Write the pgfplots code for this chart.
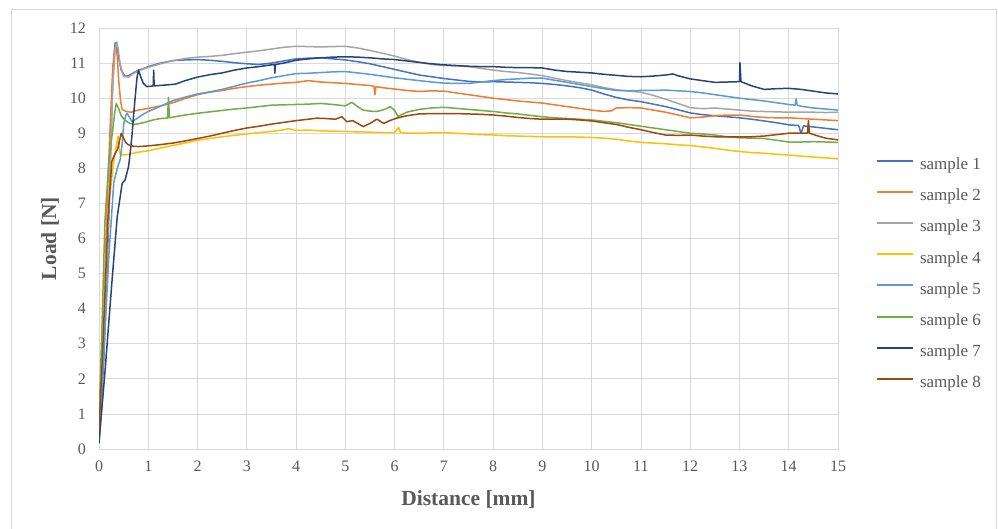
\documentclass[border=0pt]{standalone}
\usepackage{fontspec}
\setmainfont{Liberation Serif}
\usepackage{pgfplots}
\pgfplotsset{compat=1.18}

\definecolor{gridgray}{HTML}{D9D9D9}
\definecolor{labelgray}{HTML}{595959}
\definecolor{sOne}{HTML}{4472C4}
\definecolor{sTwo}{HTML}{ED7D31}
\definecolor{sThree}{HTML}{A5A5A5}
\definecolor{sFour}{HTML}{FFC000}
\definecolor{sFive}{HTML}{5B9BD5}
\definecolor{sSix}{HTML}{70AD47}
\definecolor{sSeven}{HTML}{264478}
\definecolor{sEight}{HTML}{9E480E}

\begin{document}
\begin{tikzpicture}
\useasboundingbox (0,0) rectangle (998pt,528pt);
\fill[white] (0,0) rectangle (998pt,528pt);
\draw[gridgray, line width=0.8pt] (11pt,-10pt) -- (11pt,519pt) -- (996.5pt,519pt) -- (996.5pt,-10pt);
\begin{axis}[
  at={(99pt,79pt)}, anchor=south west,
  scale only axis, width=739pt, height=421pt,
  xmin=0, xmax=15, ymin=0, ymax=12,
  xtick={0,1,...,15}, ytick={0,1,...,12},
  grid=major,
  major grid style={gridgray, line width=0.8pt},
  axis line style={gridgray, line width=0.8pt},
  major tick length=0pt,
  /pgf/number format/assume math mode=true,
  tick label style={font=\fontsize{16}{19}\selectfont, text=labelgray},
  yticklabel style={inner sep=0pt, anchor=east, xshift=-13pt},
  xticklabel style={inner sep=0pt, anchor=north, yshift=-12pt},
  xlabel={\bfseries Distance [mm]},
  ylabel={\bfseries Load [N]},
  label style={font=\fontsize{21.5}{25}\selectfont, text=labelgray},
  xlabel style={at={(axis description cs:0.5,-0.121)}, anchor=center},
  ylabel style={at={(axis description cs:-0.0663,0.5)}, anchor=center},
  legend style={draw=none, fill=none, inner sep=0pt, outer sep=0pt,
    at={(axis description cs:1.0514,0.6900)}, anchor=north west,
    row sep=17.2pt, column sep=6pt,
    font=\fontsize{17}{20}\selectfont, text=labelgray,
    nodes={inner sep=0pt, text height=11pt, text depth=3pt}},
  legend cell align=left,
  legend image code/.code={\draw[#1, line width=2pt] (0pt,5pt) -- (36pt,5pt);},
  every axis plot/.append style={line width=1.5pt, line join=round},
]
\addplot[sOne] coordinates {
(0,0.2) (0.1,2.6) (0.2,6.6) (0.27,10.1) (0.31,11.3) (0.33,11.58) (0.36,11.5) (0.4,11.15) (0.45,10.8) (0.53,10.62) (0.6,10.64) (0.7,10.72) (0.8,10.8) (0.9,10.84) (1,10.9) (1.25,11.0) (1.5,11.07) (1.75,11.09) (2,11.1) (2.25,11.08) (2.5,11.05) (2.75,11.01) (3,10.98) (3.25,10.96) (3.5,11.0) (3.75,11.06) (4,11.12) (4.25,11.14) (4.5,11.15) (4.75,11.12) (5,11.09) (5.25,11.04) (5.5,10.98) (5.75,10.9) (6,10.82) (6.25,10.74) (6.5,10.66) (6.75,10.61) (7,10.56) (7.25,10.52) (7.5,10.48) (7.75,10.46) (8,10.47) (8.25,10.46) (8.5,10.45) (8.75,10.44) (9,10.42) (9.25,10.39) (9.5,10.35) (9.75,10.3) (10,10.23) (10.25,10.12) (10.5,10.02) (10.75,9.95) (11,9.9) (11.25,9.83) (11.5,9.76) (11.75,9.67) (12,9.58) (12.25,9.53) (12.5,9.5) (12.75,9.47) (13,9.44) (13.25,9.4) (13.5,9.35) (13.75,9.3) (14,9.24) (14.2,9.22) (14.25,9.0) (14.3,9.21) (14.5,9.18) (14.75,9.14) (15,9.1)
};
\addlegendentry{sample 1}
\addplot[sTwo] coordinates {
(0,0.6) (0.08,3.0) (0.15,6.4) (0.22,9.0) (0.28,10.9) (0.32,11.4) (0.345,11.47) (0.37,11.2) (0.4,10.5) (0.44,9.9) (0.47,9.68) (0.55,9.62) (0.65,9.6) (0.8,9.66) (1,9.71) (1.25,9.78) (1.5,9.87) (1.75,9.99) (2,10.1) (2.25,10.17) (2.5,10.22) (2.75,10.28) (3,10.33) (3.25,10.37) (3.5,10.4) (3.75,10.43) (4,10.45) (4.25,10.5) (4.5,10.46) (4.75,10.44) (5,10.42) (5.25,10.39) (5.5,10.36) (5.58,10.34) (5.6,10.1) (5.62,10.33) (5.75,10.3) (6,10.26) (6.25,10.22) (6.5,10.19) (6.75,10.21) (7,10.2) (7.25,10.15) (7.5,10.1) (7.75,10.05) (8,10.0) (8.25,9.96) (8.5,9.92) (8.75,9.89) (9,9.86) (9.25,9.81) (9.5,9.76) (9.75,9.71) (10,9.66) (10.25,9.62) (10.4,9.64) (10.5,9.72) (10.75,9.73) (11,9.72) (11.25,9.66) (11.5,9.6) (11.75,9.52) (12,9.44) (12.25,9.46) (12.5,9.5) (12.75,9.52) (13,9.52) (13.25,9.48) (13.5,9.45) (13.75,9.44) (14,9.44) (14.25,9.42) (14.5,9.4) (14.75,9.38) (15,9.36)
};
\addlegendentry{sample 2}
\addplot[sThree] coordinates {
(0,0.3) (0.1,3.0) (0.2,7.0) (0.28,10.4) (0.33,11.4) (0.36,11.6) (0.39,11.4) (0.43,10.95) (0.5,10.62) (0.6,10.6) (0.7,10.7) (0.8,10.78) (1,10.88) (1.25,10.98) (1.5,11.07) (1.75,11.13) (2,11.17) (2.25,11.19) (2.5,11.22) (2.75,11.27) (3,11.31) (3.25,11.35) (3.5,11.4) (3.75,11.45) (4,11.48) (4.25,11.47) (4.5,11.46) (4.75,11.47) (5,11.48) (5.25,11.43) (5.5,11.36) (5.75,11.28) (6,11.2) (6.25,11.1) (6.5,11.02) (6.75,10.96) (7,10.93) (7.25,10.92) (7.5,10.9) (7.75,10.85) (8,10.8) (8.25,10.76) (8.5,10.73) (8.75,10.69) (9,10.64) (9.25,10.57) (9.5,10.5) (9.75,10.44) (10,10.38) (10.25,10.3) (10.5,10.24) (10.75,10.2) (11,10.17) (11.25,10.08) (11.5,9.97) (11.75,9.85) (12,9.73) (12.25,9.7) (12.5,9.72) (12.75,9.69) (13,9.66) (13.25,9.63) (13.5,9.62) (13.75,9.61) (14,9.6) (14.25,9.6) (14.5,9.6) (14.75,9.59) (15,9.6)
};
\addlegendentry{sample 3}
\addplot[sFour] coordinates {
(0,0.8) (0.1,4.0) (0.2,7.0) (0.3,8.2) (0.36,8.7) (0.385,8.92) (0.41,8.6) (0.43,8.4) (0.5,8.38) (0.6,8.4) (0.75,8.45) (1,8.5) (1.25,8.58) (1.5,8.65) (1.75,8.72) (2,8.8) (2.25,8.85) (2.5,8.9) (2.75,8.94) (3,8.98) (3.25,9.02) (3.5,9.05) (3.75,9.1) (3.85,9.13) (4,9.08) (4.25,9.09) (4.5,9.07) (4.75,9.06) (5,9.05) (5.25,9.04) (5.5,9.03) (5.75,9.02) (6,9.02) (6.08,9.17) (6.12,9.02) (6.25,9.0) (6.5,9.0) (6.75,9.01) (7,9.02) (7.25,9.0) (7.5,8.98) (7.75,8.96) (8,8.95) (8.25,8.93) (8.5,8.92) (8.75,8.91) (9,8.9) (9.25,8.9) (9.5,8.9) (9.75,8.89) (10,8.88) (10.25,8.86) (10.5,8.83) (10.75,8.78) (11,8.74) (11.25,8.72) (11.5,8.7) (11.75,8.67) (12,8.65) (12.25,8.61) (12.5,8.57) (12.75,8.52) (13,8.48) (13.25,8.45) (13.5,8.43) (13.75,8.4) (14,8.38) (14.25,8.35) (14.5,8.32) (14.75,8.3) (15,8.27)
};
\addlegendentry{sample 4}
\addplot[sFive] coordinates {
(0,0.4) (0.1,2.8) (0.2,5.5) (0.3,7.6) (0.38,8.05) (0.43,8.25) (0.47,8.7) (0.5,9.24) (0.54,9.5) (0.57,9.57) (0.62,9.45) (0.67,9.33) (0.75,9.4) (0.87,9.52) (1,9.62) (1.25,9.77) (1.5,9.93) (1.75,10.03) (2,10.12) (2.25,10.18) (2.5,10.25) (2.75,10.34) (3,10.43) (3.25,10.5) (3.5,10.58) (3.75,10.64) (4,10.7) (4.25,10.71) (4.5,10.73) (4.75,10.75) (5,10.76) (5.25,10.72) (5.5,10.68) (5.75,10.63) (6,10.58) (6.25,10.54) (6.5,10.5) (6.75,10.46) (7,10.43) (7.25,10.42) (7.5,10.42) (7.75,10.46) (8,10.5) (8.25,10.53) (8.5,10.55) (8.75,10.57) (9,10.57) (9.25,10.51) (9.5,10.45) (9.75,10.39) (10,10.33) (10.25,10.27) (10.5,10.22) (10.75,10.21) (11,10.22) (11.25,10.22) (11.5,10.23) (11.75,10.21) (12,10.19) (12.25,10.15) (12.5,10.1) (12.75,10.05) (13,10.0) (13.25,9.96) (13.5,9.92) (13.75,9.87) (14,9.82) (14.13,9.8) (14.15,9.98) (14.17,9.8) (14.25,9.77) (14.5,9.72) (14.75,9.69) (15,9.66)
};
\addlegendentry{sample 5}
\addplot[sSix] coordinates {
(0,0.8) (0.05,3.0) (0.12,6.5) (0.2,8.2) (0.27,9.0) (0.32,9.6) (0.35,9.85) (0.4,9.7) (0.45,9.5) (0.52,9.38) (0.6,9.3) (0.7,9.25) (0.8,9.27) (0.95,9.32) (1.1,9.38) (1.25,9.42) (1.39,9.43) (1.41,10.02) (1.43,9.44) (1.5,9.46) (1.75,9.52) (2,9.57) (2.25,9.61) (2.5,9.65) (2.75,9.69) (3,9.72) (3.25,9.76) (3.5,9.8) (3.75,9.81) (4,9.82) (4.25,9.83) (4.5,9.85) (4.75,9.82) (5,9.78) (5.13,9.88) (5.25,9.76) (5.36,9.66) (5.5,9.63) (5.64,9.62) (5.8,9.68) (5.91,9.76) (6.0,9.65) (6.07,9.48) (6.25,9.6) (6.5,9.68) (6.75,9.72) (7,9.74) (7.25,9.71) (7.5,9.68) (7.75,9.65) (8,9.62) (8.25,9.58) (8.5,9.55) (8.75,9.51) (9,9.47) (9.25,9.44) (9.5,9.42) (9.75,9.4) (10,9.38) (10.25,9.34) (10.5,9.3) (10.75,9.25) (11,9.2) (11.25,9.15) (11.5,9.1) (11.75,9.05) (12,9.0) (12.25,8.98) (12.5,8.95) (12.75,8.9) (13,8.87) (13.25,8.86) (13.5,8.85) (13.75,8.8) (14,8.75) (14.25,8.75) (14.5,8.76) (14.75,8.75) (15,8.74)
};
\addlegendentry{sample 6}
\addplot[sSeven] coordinates {
(0,0.16) (0.13,2.35) (0.26,4.72) (0.37,6.62) (0.47,7.57) (0.53,7.67) (0.6,8.05) (0.64,8.52) (0.67,8.95) (0.72,9.8) (0.77,10.57) (0.8,10.8) (0.85,10.6) (0.9,10.42) (0.97,10.33) (1.05,10.34) (1.1,10.35) (1.11,10.8) (1.12,10.35) (1.21,10.36) (1.4,10.38) (1.55,10.4) (1.75,10.5) (2,10.6) (2.25,10.67) (2.5,10.72) (2.75,10.8) (3,10.86) (3.25,10.9) (3.5,10.95) (3.56,10.96) (3.57,10.71) (3.58,10.96) (3.75,11.0) (4,11.08) (4.25,11.12) (4.5,11.15) (4.75,11.17) (5,11.18) (5.25,11.17) (5.5,11.15) (5.75,11.12) (6,11.1) (6.25,11.06) (6.5,11.02) (6.75,10.98) (7,10.95) (7.25,10.93) (7.5,10.91) (7.75,10.9) (8,10.9) (8.25,10.88) (8.5,10.87) (8.75,10.87) (9,10.86) (9.25,10.8) (9.5,10.76) (9.75,10.74) (10,10.72) (10.25,10.68) (10.5,10.65) (10.75,10.62) (11,10.61) (11.25,10.63) (11.5,10.66) (11.65,10.69) (11.75,10.64) (12,10.55) (12.25,10.5) (12.5,10.45) (12.75,10.46) (13,10.47) (13.01,11.01) (13.03,10.47) (13.25,10.35) (13.5,10.25) (13.75,10.27) (14,10.28) (14.25,10.25) (14.5,10.2) (14.75,10.15) (15,10.12)
};
\addlegendentry{sample 7}
\addplot[sEight] coordinates {
(0,0.5) (0.08,3.0) (0.18,6.5) (0.26,8.2) (0.32,8.4) (0.38,8.55) (0.45,9.0) (0.5,8.85) (0.55,8.72) (0.6,8.67) (0.7,8.63) (0.8,8.62) (1.0,8.64) (1.21,8.67) (1.5,8.72) (1.75,8.78) (2,8.85) (2.25,8.92) (2.5,9.0) (2.75,9.08) (3,9.15) (3.25,9.2) (3.5,9.26) (3.75,9.31) (4,9.36) (4.25,9.4) (4.42,9.43) (4.6,9.42) (4.8,9.4) (4.93,9.47) (5.03,9.33) (5.15,9.36) (5.25,9.28) (5.36,9.19) (5.5,9.28) (5.64,9.4) (5.78,9.28) (5.9,9.36) (6.04,9.43) (6.25,9.5) (6.5,9.55) (6.75,9.56) (7,9.56) (7.25,9.56) (7.5,9.55) (7.75,9.54) (8,9.52) (8.25,9.49) (8.5,9.45) (8.75,9.42) (9,9.4) (9.25,9.4) (9.5,9.4) (9.75,9.38) (10,9.35) (10.25,9.3) (10.5,9.25) (10.75,9.17) (11,9.1) (11.25,9.02) (11.5,8.95) (11.75,8.94) (12,8.95) (12.25,8.92) (12.5,8.9) (12.75,8.9) (13,8.9) (13.25,8.9) (13.5,8.92) (13.75,8.96) (14,9.0) (14.25,9.0) (14.38,9.0) (14.4,9.36) (14.42,9.0) (14.6,8.92) (14.75,8.86) (15,8.81)
};
\addlegendentry{sample 8}
\end{axis}
\end{tikzpicture}
\end{document}
